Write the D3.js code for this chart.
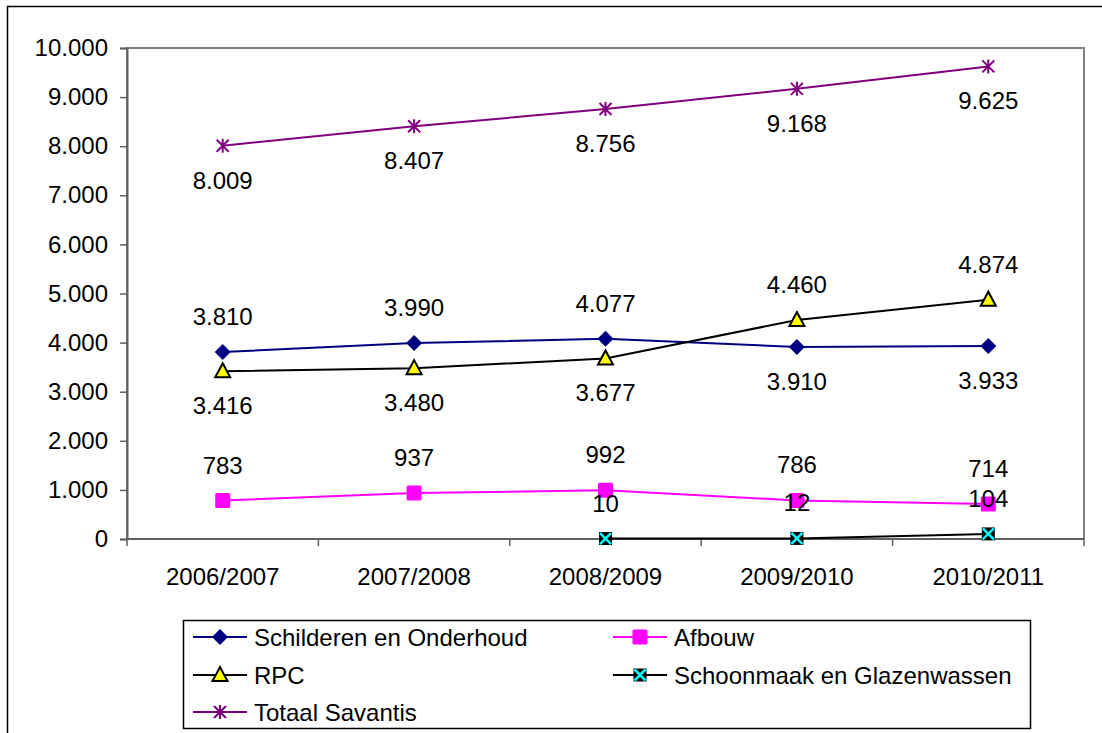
<!DOCTYPE html>
<html>
<head>
<meta charset="utf-8">
<script src="https://cdn.jsdelivr.net/npm/d3@7"></script>
<style>
  body { margin: 0; background: #fff; }
  svg { font-family: "Liberation Sans", Arial, sans-serif; }
</style>
</head>
<body>
<div id="chart"></div>
<script>
// data
var years = ["2006/2007", "2007/2008", "2008/2009", "2009/2010", "2010/2011"];
var schilderen = [3810, 3990, 4077, 3910, 3933];
var afbouw = [783, 937, 992, 786, 714];
var rpc = [3416, 3480, 3677, 4460, 4874];
var schoonmaak = [null, null, 10, 12, 104];
var totaal = [8009, 8407, 8756, 9168, 9625];
var yTicks = [0, 1000, 2000, 3000, 4000, 5000, 6000, 7000, 8000, 9000, 10000];

var W = 1102, H = 733;
var plot = {left: 127, top: 48, right: 1084, bottom: 539};

var svg = d3.select("#chart").append("svg")
  .attr("width", W).attr("height", H);

// outer chart border
svg.append("rect")
  .attr("x", 7.5).attr("y", 6.5).attr("width", 1120).attr("height", 760)
  .attr("fill", "#fff").attr("stroke", "#000").attr("stroke-width", 1.5);

var x = d3.scaleBand().domain(years).range([plot.left, plot.right]).padding(0);
var cx = function(i) { return x(years[i]) + x.bandwidth() / 2; };
var y = d3.scaleLinear().domain([0, 10000]).range([plot.bottom, plot.top]);

var fmt = function(v) { return d3.format(",")(v).replace(/,/g, "."); };

// plot area frame
svg.append("rect")
  .attr("x", plot.left).attr("y", plot.top)
  .attr("width", plot.right - plot.left).attr("height", plot.bottom - plot.top)
  .attr("fill", "none").attr("stroke", "#808080").attr("stroke-width", 2);

// Y axis
var yAxis = svg.append("g")
  .attr("transform", "translate(" + plot.left + ",0)")
  .call(d3.axisLeft(y).tickValues(yTicks).tickSize(7).tickPadding(12).tickFormat(fmt));
yAxis.select(".domain").attr("stroke", "#606060").attr("stroke-width", 2);
yAxis.selectAll(".tick line").attr("stroke", "#606060").attr("stroke-width", 1.5);
yAxis.selectAll("text").attr("font-size", 24).attr("fill", "#000")
  .style("font-family", "Liberation Sans, Arial, sans-serif");

// X axis
var xAxis = svg.append("g").attr("transform", "translate(0," + plot.bottom + ")");
xAxis.append("line")
  .attr("x1", plot.left).attr("x2", plot.right)
  .attr("stroke", "#606060").attr("stroke-width", 2);
xAxis.selectAll(".xtick")
  .data(years.concat(["end"]))
  .enter().append("line")
  .attr("x1", function(d, i) { return plot.left + i * x.bandwidth(); })
  .attr("x2", function(d, i) { return plot.left + i * x.bandwidth(); })
  .attr("y1", 0).attr("y2", 7)
  .attr("stroke", "#606060").attr("stroke-width", 1.5);
xAxis.selectAll(".xlab")
  .data(years)
  .enter().append("text")
  .attr("x", function(d, i) { return cx(i); })
  .attr("y", 46)
  .attr("text-anchor", "middle")
  .attr("font-size", 24)
  .text(function(d) { return d; });

// series
var series = [
  {name: "Schilderen en Onderhoud", values: schilderen, color: "#000080", marker: "diamond", labelPos: [-1, -1, -1, 1, 1]},
  {name: "Afbouw", values: afbouw, color: "#FF00FF", marker: "square", labelPos: [-1, -1, -1, -1, -1]},
  {name: "RPC", values: rpc, color: "#000000", marker: "triangle", labelPos: [1, 1, 1, -1, -1]},
  {name: "Schoonmaak en Glazenwassen", values: schoonmaak, color: "#000000", marker: "xsquare", labelPos: [-1, -1, -1, -1, -1]},
  {name: "Totaal Savantis", values: totaal, color: "#800080", marker: "star", labelPos: [1, 1, 1, 1, 1]}
];

function drawMarker(g, type, px, py, color) {
  if (type === "diamond") {
    g.append("path")
      .attr("d", "M" + px + "," + (py - 8) + "L" + (px + 8) + "," + py + "L" + px + "," + (py + 8) + "L" + (px - 8) + "," + py + "Z")
      .attr("fill", color);
  } else if (type === "square") {
    g.append("rect").attr("x", px - 7.5).attr("y", py - 7.5).attr("width", 15).attr("height", 15)
      .attr("rx", 1.5).attr("fill", color);
  } else if (type === "triangle") {
    g.append("path")
      .attr("d", "M" + px + "," + (py - 8) + "L" + (px + 7.5) + "," + (py + 6) + "L" + (px - 7.5) + "," + (py + 6) + "Z")
      .attr("fill", "#FFFF00").attr("stroke", "#000").attr("stroke-width", 2);
  } else if (type === "xsquare") {
    g.append("rect").attr("x", px - 6.5).attr("y", py - 6.5).attr("width", 13).attr("height", 13)
      .attr("fill", "#000");
    g.append("path")
      .attr("d", "M" + (px - 5.5) + "," + (py - 5.5) + "L" + (px + 5.5) + "," + (py + 5.5) +
                 "M" + (px + 5.5) + "," + (py - 5.5) + "L" + (px - 5.5) + "," + (py + 5.5))
      .attr("stroke", "#00FFFF").attr("stroke-width", 2.5);
  } else if (type === "star") {
    g.append("path")
      .attr("d", "M" + (px - 6) + "," + (py - 6) + "L" + (px + 6) + "," + (py + 6) +
                 "M" + (px + 6) + "," + (py - 6) + "L" + (px - 6) + "," + (py + 6) +
                 "M" + px + "," + (py - 7) + "L" + px + "," + (py + 7))
      .attr("stroke", color).attr("stroke-width", 2);
  }
}

var line = d3.line()
  .defined(function(d) { return d != null; })
  .x(function(d, i) { return cx(i); })
  .y(function(d) { return y(d); });

series.forEach(function(s) {
  var g = svg.append("g");
  g.append("path")
    .datum(s.values)
    .attr("d", line)
    .attr("fill", "none")
    .attr("stroke", s.color)
    .attr("stroke-width", 2);
  s.values.forEach(function(v, i) {
    if (v == null) return;
    drawMarker(g, s.marker, cx(i), y(v), s.color);
  });
});

// data labels drawn on top
series.forEach(function(s) {
  s.values.forEach(function(v, i) {
    if (v == null) return;
    var dy = s.labelPos[i] < 0 ? -27 : 43;
    svg.append("text")
      .attr("x", cx(i)).attr("y", y(v) + dy)
      .attr("text-anchor", "middle")
      .attr("font-size", 24)
      .text(fmt(v));
  });
});

// legend
var legend = svg.append("g");
legend.append("rect")
  .attr("x", 183.5).attr("y", 620.5).attr("width", 847).attr("height", 108)
  .attr("fill", "#fff").attr("stroke", "#000").attr("stroke-width", 1.5);
var legPos = [[193, 637], [613, 637], [193, 675], [613, 675], [193, 712]];
series.forEach(function(s, i) {
  var lx = legPos[i][0], ly = legPos[i][1];
  legend.append("line")
    .attr("x1", lx).attr("x2", lx + 54).attr("y1", ly).attr("y2", ly)
    .attr("stroke", s.color).attr("stroke-width", 2);
  drawMarker(legend, s.marker, lx + 27, ly, s.color);
  legend.append("text")
    .attr("x", lx + 61).attr("y", ly + 8.5)
    .attr("font-size", 24)
    .text(s.name);
});
</script>
</body>
</html>
